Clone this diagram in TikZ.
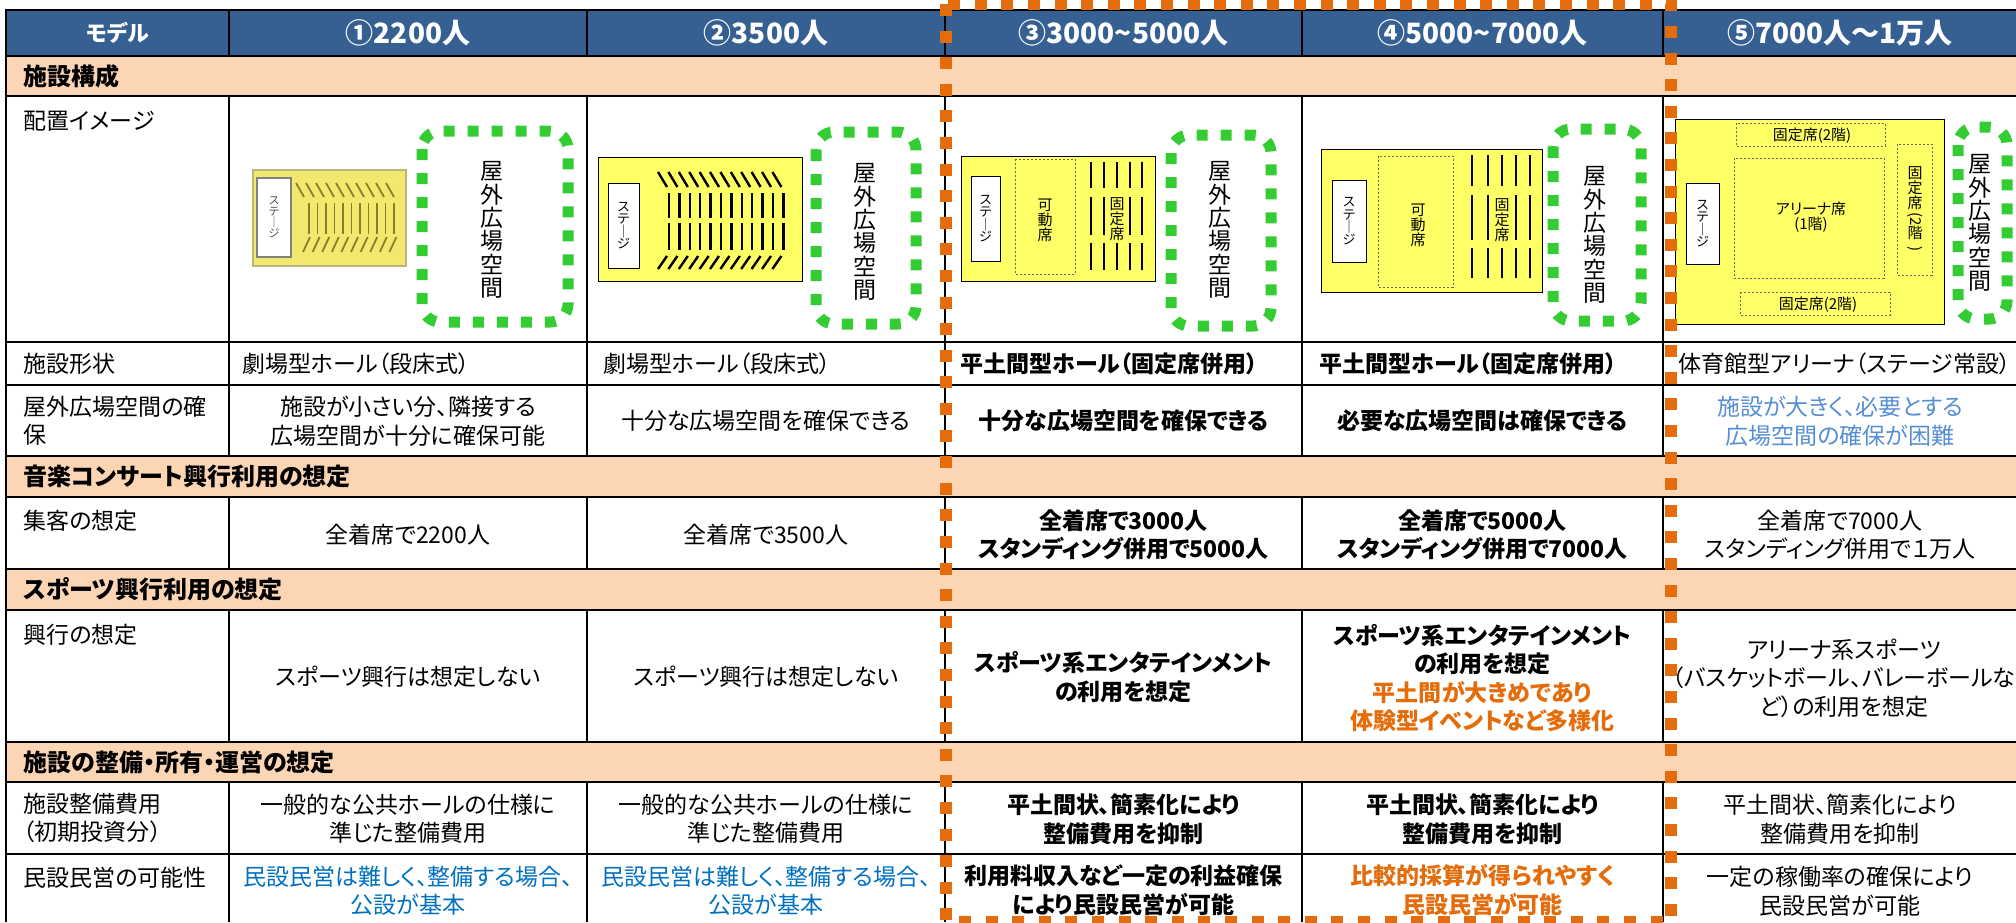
\documentclass[tikz,border=0pt]{standalone}
\usepackage{fontspec}
\setmainfont{Noto Sans CJK JP}[RawFeature=+palt]
\usepackage{graphicx}
\usepackage{tikz}

\definecolor{hdrblue}{HTML}{376092}
\definecolor{secpeach}{HTML}{FCD5B4}
\definecolor{focusorange}{HTML}{E46C0A}
\definecolor{noteblue}{HTML}{0070C0}
\definecolor{paleblue}{HTML}{558ED5}
\definecolor{plazagreen}{HTML}{33CC33}
\definecolor{hallyellow}{HTML}{FFFF66}
\definecolor{oldyellow}{HTML}{F2E86E}
\definecolor{oldedge}{HTML}{BDB57A}
\definecolor{oldseat}{HTML}{8C7D2A}

\tikzset{
    tableline/.style={black, line width=1.3pt},
    headtext/.style={text=white, inner sep=0pt, font=\bfseries\fontsize{14}{16}\selectfont},
    sectext/.style={anchor=west, inner sep=0pt, font=\bfseries\fontsize{12}{14}\selectfont},
    rowname/.style={anchor=west, align=left, inner sep=0pt, font=\fontsize{11.5}{14.25}\selectfont},
    bodycell/.style={align=center, inner sep=0pt, font=\fontsize{11.5}{14.25}\selectfont},
    boldcell/.style={bodycell, font=\bfseries\fontsize{11.5}{14.25}\selectfont},
    hall/.style={fill=hallyellow, draw=black, line width=0.5pt},
    stagebox/.style={fill=white, draw=black, line width=0.5pt},
    seatline/.style={black, line width=1.2pt},
    oldline/.style={oldseat, line width=0.9pt},
    seatarea/.style={draw=black!60, line width=0.4pt, dash pattern=on 1.2pt off 0.8pt},
    tatetext/.style={align=center, inner sep=0pt},
    stagefont/.style={font=\fontsize{6.5}{6.25}\selectfont},
    seatfont/.style={font=\fontsize{7.5}{7.5}\selectfont},
    plazafont/.style={font=\fontsize{11.5}{11.7}\selectfont},
    plaza/.style={draw=plazagreen, line width=5.5pt, dash pattern=on 5.5pt off 6.5pt, rounded corners=9pt},
    focusframe/.style={draw=focusorange, line width=6pt, dash pattern=on 6pt off 7.3pt},
}

\begin{document}
\begin{tikzpicture}[x=0.5pt, y=-0.5pt]
    \useasboundingbox (0,0) rectangle (2016,922);
    \clip (0,0) rectangle (2016,922);
    \fill[white] (0,0) rectangle (2016,922);
    \fill[hdrblue] (6,10) rectangle (2018,56);
    \foreach \ya/\yb in {56/96, 456/497, 569/610, 742/782}
        \fill[secpeach] (6,\ya) rectangle (2018,\yb);
    \foreach \y in {10,56,96,342,385,456,497,569,610,742,782,854}
        \draw[tableline] (5.35,\y) -- (2018,\y);
    \draw[tableline] (6,10) -- (6,922);
    \foreach \x in {229,587,945,1302,1663} {
        \draw[tableline] (\x,10) -- (\x,56);
        \draw[tableline] (\x,96) -- (\x,456);
        \draw[tableline] (\x,497) -- (\x,569);
        \draw[tableline] (\x,610) -- (\x,742);
        \draw[tableline] (\x,782) -- (\x,922);
    }

    \node[headtext, font=\bfseries\fontsize{11}{13}\selectfont] (headmodel) at (117.5,33) {モデル};
    \node[headtext] (head1) at (408,33) {①2200人};
    \node[headtext] (head2) at (766,33) {②3500人};
    \node[headtext] (head3) at (1123.5,33) {③3000\textasciitilde5000人};
    \node[headtext] (head4) at (1482.5,33) {④5000\textasciitilde7000人};
    \node[headtext] (head5) at (1840,33) {⑤7000人～1万人};

    \node[sectext] (secbuild) at (23,76) {施設構成};
    \node[sectext] (secmusic) at (23,476.5) {音楽コンサート興行利用の想定};
    \node[sectext] (secsport) at (23,589.5) {スポーツ興行利用の想定};
    \node[sectext] (secmanage) at (23,762) {施設の整備・所有・運営の想定};

    \node[rowname] (namelayout) at (23,121) {配置イメージ};
    \node[rowname] (nameshape) at (23,363.5) {施設形状};
    \node[rowname] (nameplaza) at (23,420.5) {屋外広場空間の確\\保};
    \node[rowname] (namecrowd) at (23,521) {集客の想定};
    \node[rowname] (nameevent) at (23,635) {興行の想定};
    \node[rowname] (namecost) at (23,818) {施設整備費用\\（初期投資分）};
    \node[rowname] (nameprivate) at (23,878) {民設民営の可能性};

    % model 1
    \draw[fill=oldyellow, draw=oldedge, line width=0.8pt] (253,170) rectangle (406,266);
    \draw[fill=white, draw=gray, line width=0.6pt] (257,178) rectangle (291,257);
    \node[tatetext, text=black!70, font=\fontsize{5.5}{5.5}\selectfont] (stage1) at (274,217.5) {ス\\テ\\｜\\ジ};
    \foreach \i in {0,...,9} {
        \draw[oldline] (296+\i*10,183) -- ++(8,14);
        \draw[oldline] (303+\i*9.6,252) -- ++(7,-15);
    }
    \foreach \i in {0,...,10}
        \draw[oldline] (309+\i*8.5,203) -- ++(0,31);
    \draw[plaza] (422,131) rectangle (568,322);
    \node[tatetext, plazafont] (plaza1) at (492,230) {屋\\外\\広\\場\\空\\間};

    % model 2
    \draw[hall] (598,157) rectangle (802,281);
    \draw[stagebox] (608,183) rectangle (639,268);
    \node[tatetext, stagefont] (stage2) at (623.5,225.5) {ス\\テ\\｜\\ジ};
    \foreach \i in {0,...,11} {
        \draw[seatline] (658+\i*10.4,172) -- ++(9,15);
        \draw[seatline] (669+\i*10.4,193) -- ++(0,25);
        \draw[seatline] (669+\i*10.4,223) -- ++(0,27);
        \draw[seatline] (658+\i*10.4,269) -- ++(9,-13);
    }
    \draw[plaza] (816,132) rectangle (916,324);
    \node[tatetext, plazafont] (plaza2) at (865,232) {屋\\外\\広\\場\\空\\間};

    % model 3
    \draw[hall] (961,156) rectangle (1155,281);
    \draw[stagebox] (971,176) rectangle (1000,261);
    \node[tatetext, stagefont] (stage3) at (985.5,218.5) {ス\\テ\\｜\\ジ};
    \draw[seatarea] (1015,159) rectangle (1075,274);
    \node[tatetext, seatfont] (move3) at (1045,220) {可\\動\\席};
    \foreach \x in {1091,1104,1117,1130,1142} {
        \draw[seatline] (\x,162) -- (\x,188);
        \draw[seatline] (\x,243) -- (\x,270);
    }
    \foreach \x in {1091,1104,1130,1142}
        \draw[seatline] (\x,197) -- (\x,235);
    \node[tatetext, seatfont] (fixed3) at (1117,219.5) {固\\定\\席};
    \draw[plaza] (1171,135) rectangle (1271,326);
    \node[tatetext, plazafont] (plaza3) at (1220,230) {屋\\外\\広\\場\\空\\間};

    % model 4
    \draw[hall] (1321,149) rectangle (1542,292);
    \draw[stagebox] (1332,180) rectangle (1366,262);
    \node[tatetext, stagefont] (stage4) at (1349,221) {ス\\テ\\｜\\ジ};
    \draw[seatarea] (1378,156) rectangle (1453,287);
    \node[tatetext, seatfont] (move4) at (1418,225) {可\\動\\席};
    \foreach \x in {1472,1488,1502,1516,1530} {
        \draw[seatline] (\x,155) -- (\x,186);
        \draw[seatline] (\x,248) -- (\x,278);
    }
    \foreach \x in {1472,1488,1516,1530}
        \draw[seatline] (\x,195) -- (\x,240);
    \node[tatetext, seatfont] (fixed4) at (1502,220) {固\\定\\席};
    \draw[plaza] (1553,129) rectangle (1641,321);
    \node[tatetext, plazafont] (plaza4) at (1595,235) {屋\\外\\広\\場\\空\\間};

    % model 5
    \draw[hall] (1675,119) rectangle (1944,324);
    \draw[stagebox] (1686,183) rectangle (1719,264);
    \node[tatetext, stagefont] (stage5) at (1702.5,223.5) {ス\\テ\\｜\\ジ};
    \draw[seatarea] (1736,123) rectangle (1885,146);
    \draw[seatarea] (1740,292) rectangle (1890,315);
    \draw[seatarea] (1734,158) rectangle (1884,278);
    \draw[seatarea] (1897,144) rectangle (1932,275);
    \node[inner sep=0pt, seatfont] (upper5) at (1812,135.5) {固定席(2階)};
    \node[inner sep=0pt, seatfont] (lower5) at (1818,304.5) {固定席(2階)};
    \node[tatetext, seatfont] (arena5) at (1811,217) {アリーナ席\\(1階)};
    \node[tatetext, seatfont] (side5) at (1915,210)
        {固\\定\\席\\\rotatebox[origin=c]{-90}{(2}\\階\\\rotatebox[origin=c]{-90}{)}};
    \draw[plaza] (1958,127) rectangle (2007,319);
    \node[tatetext, plazafont] (plaza5) at (1980,223) {屋\\外\\広\\場\\空\\間};

    \node[bodycell, anchor=west] (shape1) at (242,363.5) {劇場型ホール（段床式）};
    \node[bodycell, anchor=west] (shape2) at (603,363.5) {劇場型ホール（段床式）};
    \node[boldcell, anchor=west] (shape3) at (960,363.5) {平土間型ホール（固定席併用）};
    \node[boldcell, anchor=west] (shape4) at (1319,363.5) {平土間型ホール（固定席併用）};
    \node[bodycell, anchor=west] (shape5) at (1678,363.5) {体育館型アリーナ（ステージ常設）};

    \node[bodycell] (open1) at (408,421) {施設が小さい分、隣接する\\広場空間が十分に確保可能};
    \node[bodycell] (open2) at (766,421) {十分な広場空間を確保できる};
    \node[boldcell] (open3) at (1123.5,421) {十分な広場空間を確保できる};
    \node[boldcell] (open4) at (1482.5,421) {必要な広場空間は確保できる};
    \node[bodycell, text=paleblue] (open5) at (1840,421) {施設が大きく、必要とする\\広場空間の確保が困難};

    \node[bodycell] (crowd1) at (408,535) {全着席で2200人};
    \node[bodycell] (crowd2) at (766,535) {全着席で3500人};
    \node[boldcell] (crowd3) at (1123.5,535) {全着席で3000人\\スタンディング併用で5000人};
    \node[boldcell] (crowd4) at (1482.5,535) {全着席で5000人\\スタンディング併用で7000人};
    \node[bodycell] (crowd5) at (1840,535) {全着席で7000人\\スタンディング併用で１万人};

    \node[bodycell] (event1) at (408,677) {スポーツ興行は想定しない};
    \node[bodycell] (event2) at (766,677) {スポーツ興行は想定しない};
    \node[boldcell] (event3) at (1123.5,677) {スポーツ系エンタテインメント\\の利用を想定};
    \node[boldcell] (event4) at (1482.5,678)
        {スポーツ系エンタテインメント\\の利用を想定\\\textcolor{focusorange}{平土間が大きめであり}\\\textcolor{focusorange}{体験型イベントなど多様化}};
    \node[bodycell] (event5) at (1844,678) {アリーナ系スポーツ\\（バスケットボール、バレーボールな\\ど）の利用を想定};

    \node[bodycell] (cost1) at (408,819) {一般的な公共ホールの仕様に\\準じた整備費用};
    \node[bodycell] (cost2) at (766,819) {一般的な公共ホールの仕様に\\準じた整備費用};
    \node[boldcell] (cost3) at (1123.5,819) {平土間状、簡素化により\\整備費用を抑制};
    \node[boldcell] (cost4) at (1482.5,819) {平土間状、簡素化により\\整備費用を抑制};
    \node[bodycell] (cost5) at (1840,819) {平土間状、簡素化により\\整備費用を抑制};

    \node[bodycell, text=noteblue] (private1) at (408,891) {民設民営は難しく、整備する場合、\\公設が基本};
    \node[bodycell, text=noteblue] (private2) at (766,891) {民設民営は難しく、整備する場合、\\公設が基本};
    \node[boldcell] (private3) at (1123.5,890) {利用料収入など一定の利益確保\\により民設民営が可能};
    \node[boldcell, text=focusorange] (private4) at (1482.5,890) {比較的採算が得られやすく\\民設民営が可能};
    \node[bodycell] (private5) at (1840,891) {一定の稼働率の確保により\\民設民営が可能};

    \draw[focusframe] (946,4) rectangle (1671,922);
\end{tikzpicture}
\end{document}
